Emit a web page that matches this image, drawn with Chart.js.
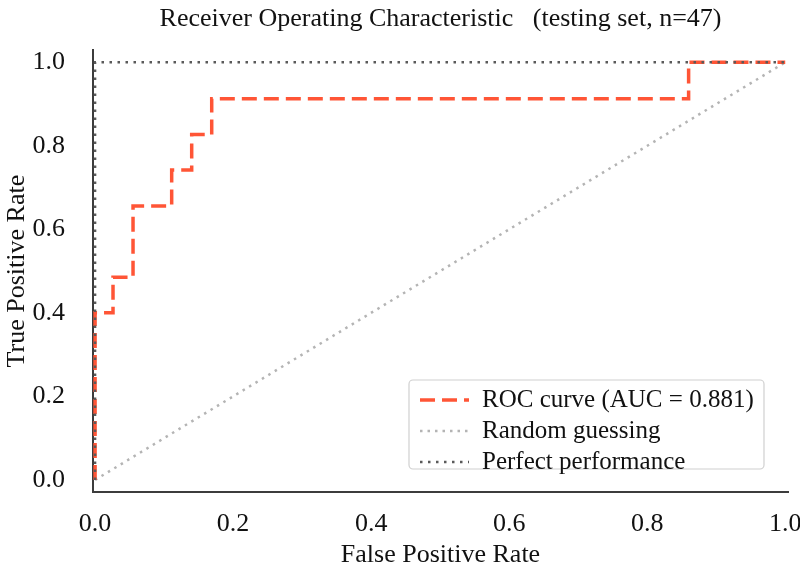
<!DOCTYPE html>
<html lang="en">
<head>
  <meta charset="UTF-8">
  <title>ROC curve</title>
  <style>
    body {
      margin: 0;
      background: #fff;
    }
    #chart-container {
      width: 800px;
      height: 571px;
    }
  </style>
  <script src="https://cdn.jsdelivr.net/npm/chart.js"></script>
</head>
<body>
  <div id="chart-container">
    <canvas id="rocChart"></canvas>
  </div>

  <script>
    // ROC points (step curve, like sklearn's roc_curve output)
    const fpr = [0, 0, 0.026, 0.026, 0.055, 0.055, 0.111, 0.111, 0.140, 0.140, 0.169, 0.169, 0.860, 0.860, 1.0];
    const tpr = [0, 0.400, 0.400, 0.485, 0.485, 0.656, 0.656, 0.742, 0.742, 0.827, 0.827, 0.913, 0.913, 1.0, 1.0];
    const randomX = [0, 1];
    const randomY = [0, 1];
    const perfectX = [0, 0, 1];
    const perfectY = [0, 1, 1];
    const xTicks = [0, 0.2, 0.4, 0.6, 0.8, 1.0];
    const yTicks = [0, 0.2, 0.4, 0.6, 0.8, 1.0];
    const aucLabel = "ROC curve (AUC = 0.881)";

    const serif = "'Liberation Serif', 'Times New Roman', serif";

    function toPoints(xs, ys) {
      return xs.map((x, i) => ({ x: x, y: ys[i] }));
    }

    // legend drawn inside the plot, lower right, like matplotlib's
    const innerLegend = {
      id: 'innerLegend',
      afterDraw(chart) {
        const ctx = chart.ctx;
        const area = chart.chartArea;
        const w = 355, h = 89;
        const x0 = area.right - 24 - w;
        const y0 = area.bottom - 23 - h;
        ctx.save();
        ctx.beginPath();
        ctx.roundRect(x0, y0, w, h, 4);
        ctx.fillStyle = 'rgba(255,255,255,0.85)';
        ctx.fill();
        ctx.strokeStyle = '#d0d0d0';
        ctx.lineWidth = 1.2;
        ctx.stroke();
        ctx.font = '25px ' + serif;
        ctx.textBaseline = 'middle';
        chart.data.datasets.forEach((ds, i) => {
          const cy = y0 + 20 + i * 31;
          ctx.beginPath();
          ctx.setLineDash(ds.borderDash || []);
          ctx.lineWidth = ds.borderWidth;
          ctx.strokeStyle = ds.borderColor;
          ctx.moveTo(x0 + 11, cy);
          ctx.lineTo(x0 + 60, cy);
          ctx.stroke();
          ctx.setLineDash([]);
          ctx.fillStyle = '#111';
          ctx.fillText(ds.label, x0 + 73, cy);
        });
        ctx.restore();
      }
    };

    const ctx = document.getElementById("rocChart").getContext("2d");
    new Chart(ctx, {
      type: 'line',
      data: {
        datasets: [
          {
            label: aucLabel,
            data: toPoints(fpr, tpr),
            borderColor: '#ff5536',
            borderWidth: 3.5,
            borderDash: [15, 7],
            pointRadius: 0,
            tension: 0,
            order: 1
          },
          {
            label: 'Random guessing',
            data: toPoints(randomX, randomY),
            borderColor: '#b4b4b4',
            borderWidth: 2.5,
            borderDash: [2.5, 5],
            pointRadius: 0,
            order: 2
          },
          {
            label: 'Perfect performance',
            data: toPoints(perfectX, perfectY),
            borderColor: '#5a5a5a',
            borderWidth: 2.5,
            borderDash: [2.5, 5.5],
            pointRadius: 0,
            order: 0
          }
        ]
      },
      options: {
        responsive: true,
        maintainAspectRatio: false,
        animation: false,
        devicePixelRatio: 1,
        layout: {
          padding: { top: 0, left: 0, right: 12, bottom: 0 }
        },
        plugins: {
          legend: { display: false },
          tooltip: { enabled: false },
          title: {
            display: true,
            fullSize: false,
            text: 'Receiver Operating Characteristic   (testing set, n=47)',
            color: '#111',
            font: { family: serif, size: 26, weight: 'normal' },
            padding: { top: 4, bottom: 15 }
          }
        },
        scales: {
          x: {
            type: 'linear',
            min: -0.003,
            max: 1.004,
            afterBuildTicks: scale => { scale.ticks = xTicks.map(v => ({ value: v })); },
            afterFit: scale => {
              scale.height = 79;
              scale.paddingLeft = 0;
              scale.paddingRight = 0;
            },
            grid: { display: false },
            border: { display: true, color: '#3c3c3c', width: 2 },
            ticks: {
              color: '#111',
              padding: 9,
              maxRotation: 0,
              font: { family: serif, size: 26 },
              callback: v => v.toFixed(1)
            },
            title: {
              display: true,
              text: 'False Positive Rate',
              color: '#111',
              font: { family: serif, size: 26 },
              padding: { top: 0, bottom: 0 }
            }
          },
          y: {
            type: 'linear',
            min: -0.029,
            max: 1.029,
            afterBuildTicks: scale => { scale.ticks = yTicks.map(v => ({ value: v })); },
            afterFit: scale => {
              scale.width = 93;
              scale.paddingTop = 0;
              scale.paddingBottom = 0;
            },
            grid: { display: false },
            border: { display: true, color: '#3c3c3c', width: 2 },
            ticks: {
              color: '#111',
              padding: 20,
              font: { family: serif, size: 26 },
              callback: v => v.toFixed(1)
            },
            title: {
              display: true,
              text: 'True Positive Rate',
              color: '#111',
              font: { family: serif, size: 26 },
              padding: { top: 2, bottom: 0 }
            }
          }
        }
      },
      plugins: [innerLegend]
    });
  </script>
</body>
</html>
